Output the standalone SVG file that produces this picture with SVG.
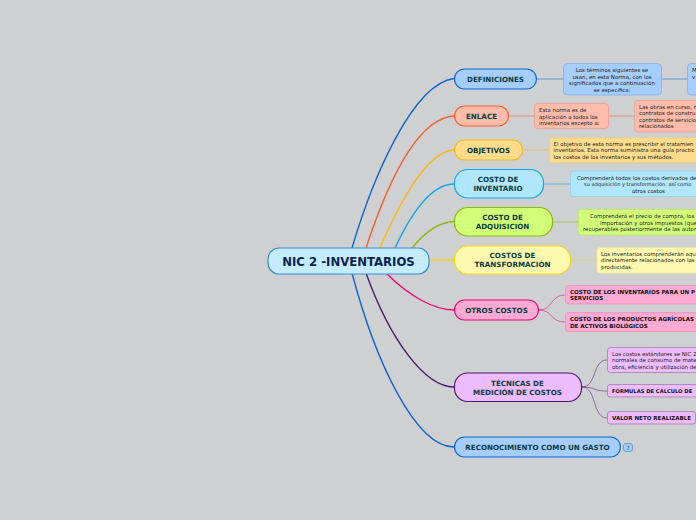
<svg xmlns="http://www.w3.org/2000/svg" width="696" height="520" viewBox="0 0 696 520">
<style>
text{font-family:"DejaVu Sans","Liberation Sans",sans-serif;}
.m{font-size:7.15px;font-weight:700;fill:#0b3d3d;text-anchor:middle;}
.c{font-size:5.45px;fill:#222;}
.mid{text-anchor:middle;}
.b{font-size:5.55px;font-weight:700;fill:#111;}
.n{stroke-width:1.2;}
.k{stroke-width:.8;}
.l{fill:none;stroke-width:1.4;}
.s{fill:none;stroke-width:1;opacity:.55;}
</style>
<rect width="696" height="520" fill="#cfd0d2"/>
<g id="connectors">
<path class="l" stroke="#0d67d3" d="M352 248C372 180 412 84 454 78.500"/>
<path class="l" stroke="#f5602f" d="M366 248C390 175 420 118 454 116"/>
<path class="l" stroke="#fdb813" d="M380 248C405 190 430 151 454 150"/>
<path class="l" stroke="#13a8e8" d="M395 248C415 205 435 184 454 184"/>
<path class="l" stroke="#8aba0f" d="M412 248C425 232 440 222 454 221.500"/>
<path class="l" stroke="#f0d816" d="M429 260H454"/>
<path class="l" stroke="#f0066e" d="M386 273C410 297 435 310 454 310"/>
<path class="l" stroke="#4f1a6e" d="M366 273C390 340 425 387 454 387"/>
<path class="l" stroke="#0d67d3" d="M352 273C375 360 415 447 454 447"/>
<path class="s" stroke="#0d67d3" d="M537 79H563M661 79H687"/>
<path class="s" stroke="#f5602f" d="M509 116H534M608 116H634"/>
<path class="s" stroke="#fdb813" d="M523 150H549"/>
<path class="s" stroke="#13a8e8" d="M544 184H570"/>
<path class="s" stroke="#8aba0f" d="M553 222H578"/>
<path class="s" stroke="#f0d816" d="M570 260H597"/>
<path class="s" stroke="#f0066e" d="M539 310C553 310 550 295 565 295M539 310C553 310 550 322 565 322"/>
<path class="s" stroke="#4f1a6e" d="M582 387C597 387 592 360 607 360M582 387C597 387 592 391 607 391M582 387C597 387 592 418 607 418"/>
</g>
<g id="central"><rect x="268" y="248" width="161" height="26" rx="11" fill="#c5ebff" stroke="#3a8fcf" stroke-width="1.2"/><text x="348.500" y="265.500" font-size="11.700" font-weight="700" fill="#0a2350" text-anchor="middle">NIC 2 -INVENTARIOS</text></g>
<g id="definiciones"><rect class="n" x="454.500" y="69" width="82" height="20" rx="10" fill="#a6cdff" stroke="#0d67d3"/><text class="m" x="495.500" y="81.800">DEFINICIONES</text></g>
<g id="enlace"><rect class="n" x="454.500" y="106" width="54" height="20" rx="10" fill="#ffbcaa" stroke="#f5602f"/><text class="m" x="481.500" y="118.800">ENLACE</text></g>
<g id="objetivos"><rect class="n" x="454.500" y="140" width="68" height="20" rx="10" fill="#ffdc8c" stroke="#fdb813"/><text class="m" x="488.500" y="153">OBJETIVOS</text></g>
<g id="costo-inventario"><rect class="n" x="454.500" y="169.500" width="89" height="28.500" rx="13" fill="#b0e6ff" stroke="#13a8e8"/><text class="m" x="498" y="182">COSTO DE</text><text class="m" x="498" y="191.300">INVENTARIO</text></g>
<g id="costo-adquisicion"><rect class="n" x="454.500" y="207.500" width="98" height="28.500" rx="13" fill="#d2ff78" stroke="#8aba0f"/><text class="m" x="502.500" y="220">COSTO DE</text><text class="m" x="502.500" y="229.300">ADQUISICIÓN</text></g>
<g id="costos-transformacion"><rect class="n" x="454.500" y="246" width="116" height="28" rx="13" fill="#fff9b0" stroke="#f0d816"/><text class="m" x="512.500" y="258">COSTOS DE</text><text class="m" x="512.500" y="267.300">TRANSFORMACIÓN</text></g>
<g id="otros-costos"><rect class="n" x="454.500" y="300" width="84" height="20" rx="10" fill="#ffaad2" stroke="#f0066e"/><text class="m" x="496.500" y="313">OTROS COSTOS</text></g>
<g id="tecnicas"><rect class="n" x="454.500" y="373" width="127" height="28.500" rx="13" fill="#ecbcff" stroke="#4f1a6e"/><text class="m" x="517.500" y="386">TÉCNICAS DE</text><text class="m" x="517.500" y="394.500">MEDICIÓN DE COSTOS</text></g>
<g id="reconocimiento"><rect class="n" x="454.500" y="437" width="166" height="20" rx="10" fill="#a6cdff" stroke="#0d67d3"/><text class="m" x="537.500" y="450">RECONOCIMIENTO COMO UN GASTO</text></g>
<g id="badge"><rect x="623.500" y="443.500" width="9" height="8" rx="2.500" fill="#a6cdff" stroke="#3a8fcf" stroke-width=".7"/><text x="628" y="450" font-size="5" fill="#234" text-anchor="middle">7</text></g>
<g id="def-1"><rect class="k" x="563.500" y="63.500" width="98" height="31.500" rx="4" fill="#a6cdff" stroke="#7fb0f0"/><text class="c mid" x="612" y="72">Los términos siguientes se</text><text class="c mid" x="612" y="78.500">usan, en esta Norma, con los</text><text class="c mid" x="612" y="85">significados que a continuación</text><text class="c mid" x="612" y="91.500">se especifica:</text></g>
<g id="def-2"><rect class="k" x="687.500" y="63.500" width="30" height="31.500" rx="4" fill="#a6cdff" stroke="#7fb0f0"/><text class="c" x="692" y="72">M</text><text class="c" x="692" y="78.500">v</text></g>
<g id="enl-1"><rect class="k" x="534.500" y="103.500" width="74" height="25" rx="3" fill="#ffbcaa" stroke="#f0a090"/><text class="c" x="539" y="112">Esta norma es de</text><text class="c" x="539" y="118.500">aplicación a todos los</text><text class="c" x="539" y="125">inventarios excepto a:</text></g>
<g id="enl-2"><rect class="k" x="634.500" y="100.500" width="90" height="31.500" rx="3" fill="#ffbcaa" stroke="#f0a090"/><text class="c" x="639" y="108.500">Las obras en curso, n</text><text class="c" x="639" y="115">contratos de constru</text><text class="c" x="639" y="122">contratos de servicio</text><text class="c" x="639" y="128">relacionados</text></g>
<g id="obj-1"><rect class="k" x="549.500" y="138" width="190" height="24.500" rx="3" fill="#ffdc8c" stroke="#f5d070"/><text class="c" x="553.500" y="146">El objetivo de esta norma es prescribir el tratamien</text><text class="c" x="553.500" y="152.300">inventarios. Esta norma suministra una guía practic</text><text class="c" x="553.500" y="159">los costos de los inventarios y sus métodos.</text></g>
<g id="inv-1"><rect class="k" x="570.500" y="171" width="190" height="25.500" rx="3" fill="#b0e6ff" stroke="#90d4f0"/><text class="c" x="577" y="179.500">Comprenderá todos los costos derivados de</text><text class="c" x="584" y="186" font-size="5.100" style="font-size:5.1px">su adquisición y transformación, así como</text><text class="c" x="632" y="193">otros costos</text></g>
<g id="adq-1"><rect class="k" x="578.500" y="209.500" width="190" height="25.500" rx="3" fill="#d2ff78" stroke="#b8e860"/><text class="c" x="590" y="218">Comprenderá el precio de compra, los</text><text class="c" x="600" y="224.500">importación y otros impuestos (que</text><text class="c" x="583" y="231">recuperables posteriormente de las autor</text></g>
<g id="tra-1"><rect class="k" x="597" y="247.500" width="190" height="25.500" rx="3" fill="#fff9b0" stroke="#f0e890"/><text class="c" x="601" y="256">Los inventarios comprenderán aqu</text><text class="c" x="601" y="262.300">directamente relacionados con las</text><text class="c" x="601" y="269">producidas.</text></g>
<g id="otr-1"><rect class="k" x="565.500" y="285.500" width="190" height="18.500" rx="3" fill="#ffaad2" stroke="#f090b8"/><text class="b" x="570" y="293.800">COSTO DE LOS INVENTARIOS PARA UN P</text><text class="b" x="570" y="300.300">SERVICIOS</text></g>
<g id="otr-2"><rect class="k" x="565.500" y="312.500" width="190" height="19" rx="3" fill="#ffaad2" stroke="#f090b8"/><text class="b" x="570" y="320.800">COSTO DE LOS PRODUCTOS AGRÍCOLAS</text><text class="b" x="570" y="327.800">DE ACTIVOS BIOLÓGICOS</text></g>
<g id="tec-1"><rect class="k" x="607.500" y="347.500" width="190" height="25" rx="3" fill="#ecbcff" stroke="#a080b0"/><text class="c" x="612" y="356">Los costos estándares se NIC 2</text><text class="c" x="612" y="362.300">normales de consumo de mate</text><text class="c" x="612" y="369">obra, eficiencia y utilización de</text></g>
<g id="tec-2"><rect class="k" x="607.500" y="384.500" width="190" height="12.500" rx="2.500" fill="#ecbcff" stroke="#a080b0"/><text class="b" x="612" y="393" style="font-size:5.2px">FÓRMULAS DE CÁLCULO DE</text></g>
<g id="tec-3"><rect class="k" x="607.500" y="411.500" width="88" height="12.500" rx="2.500" fill="#ecbcff" stroke="#a080b0"/><text class="b" x="612" y="420">VALOR NETO REALIZABLE</text></g>
</svg>
